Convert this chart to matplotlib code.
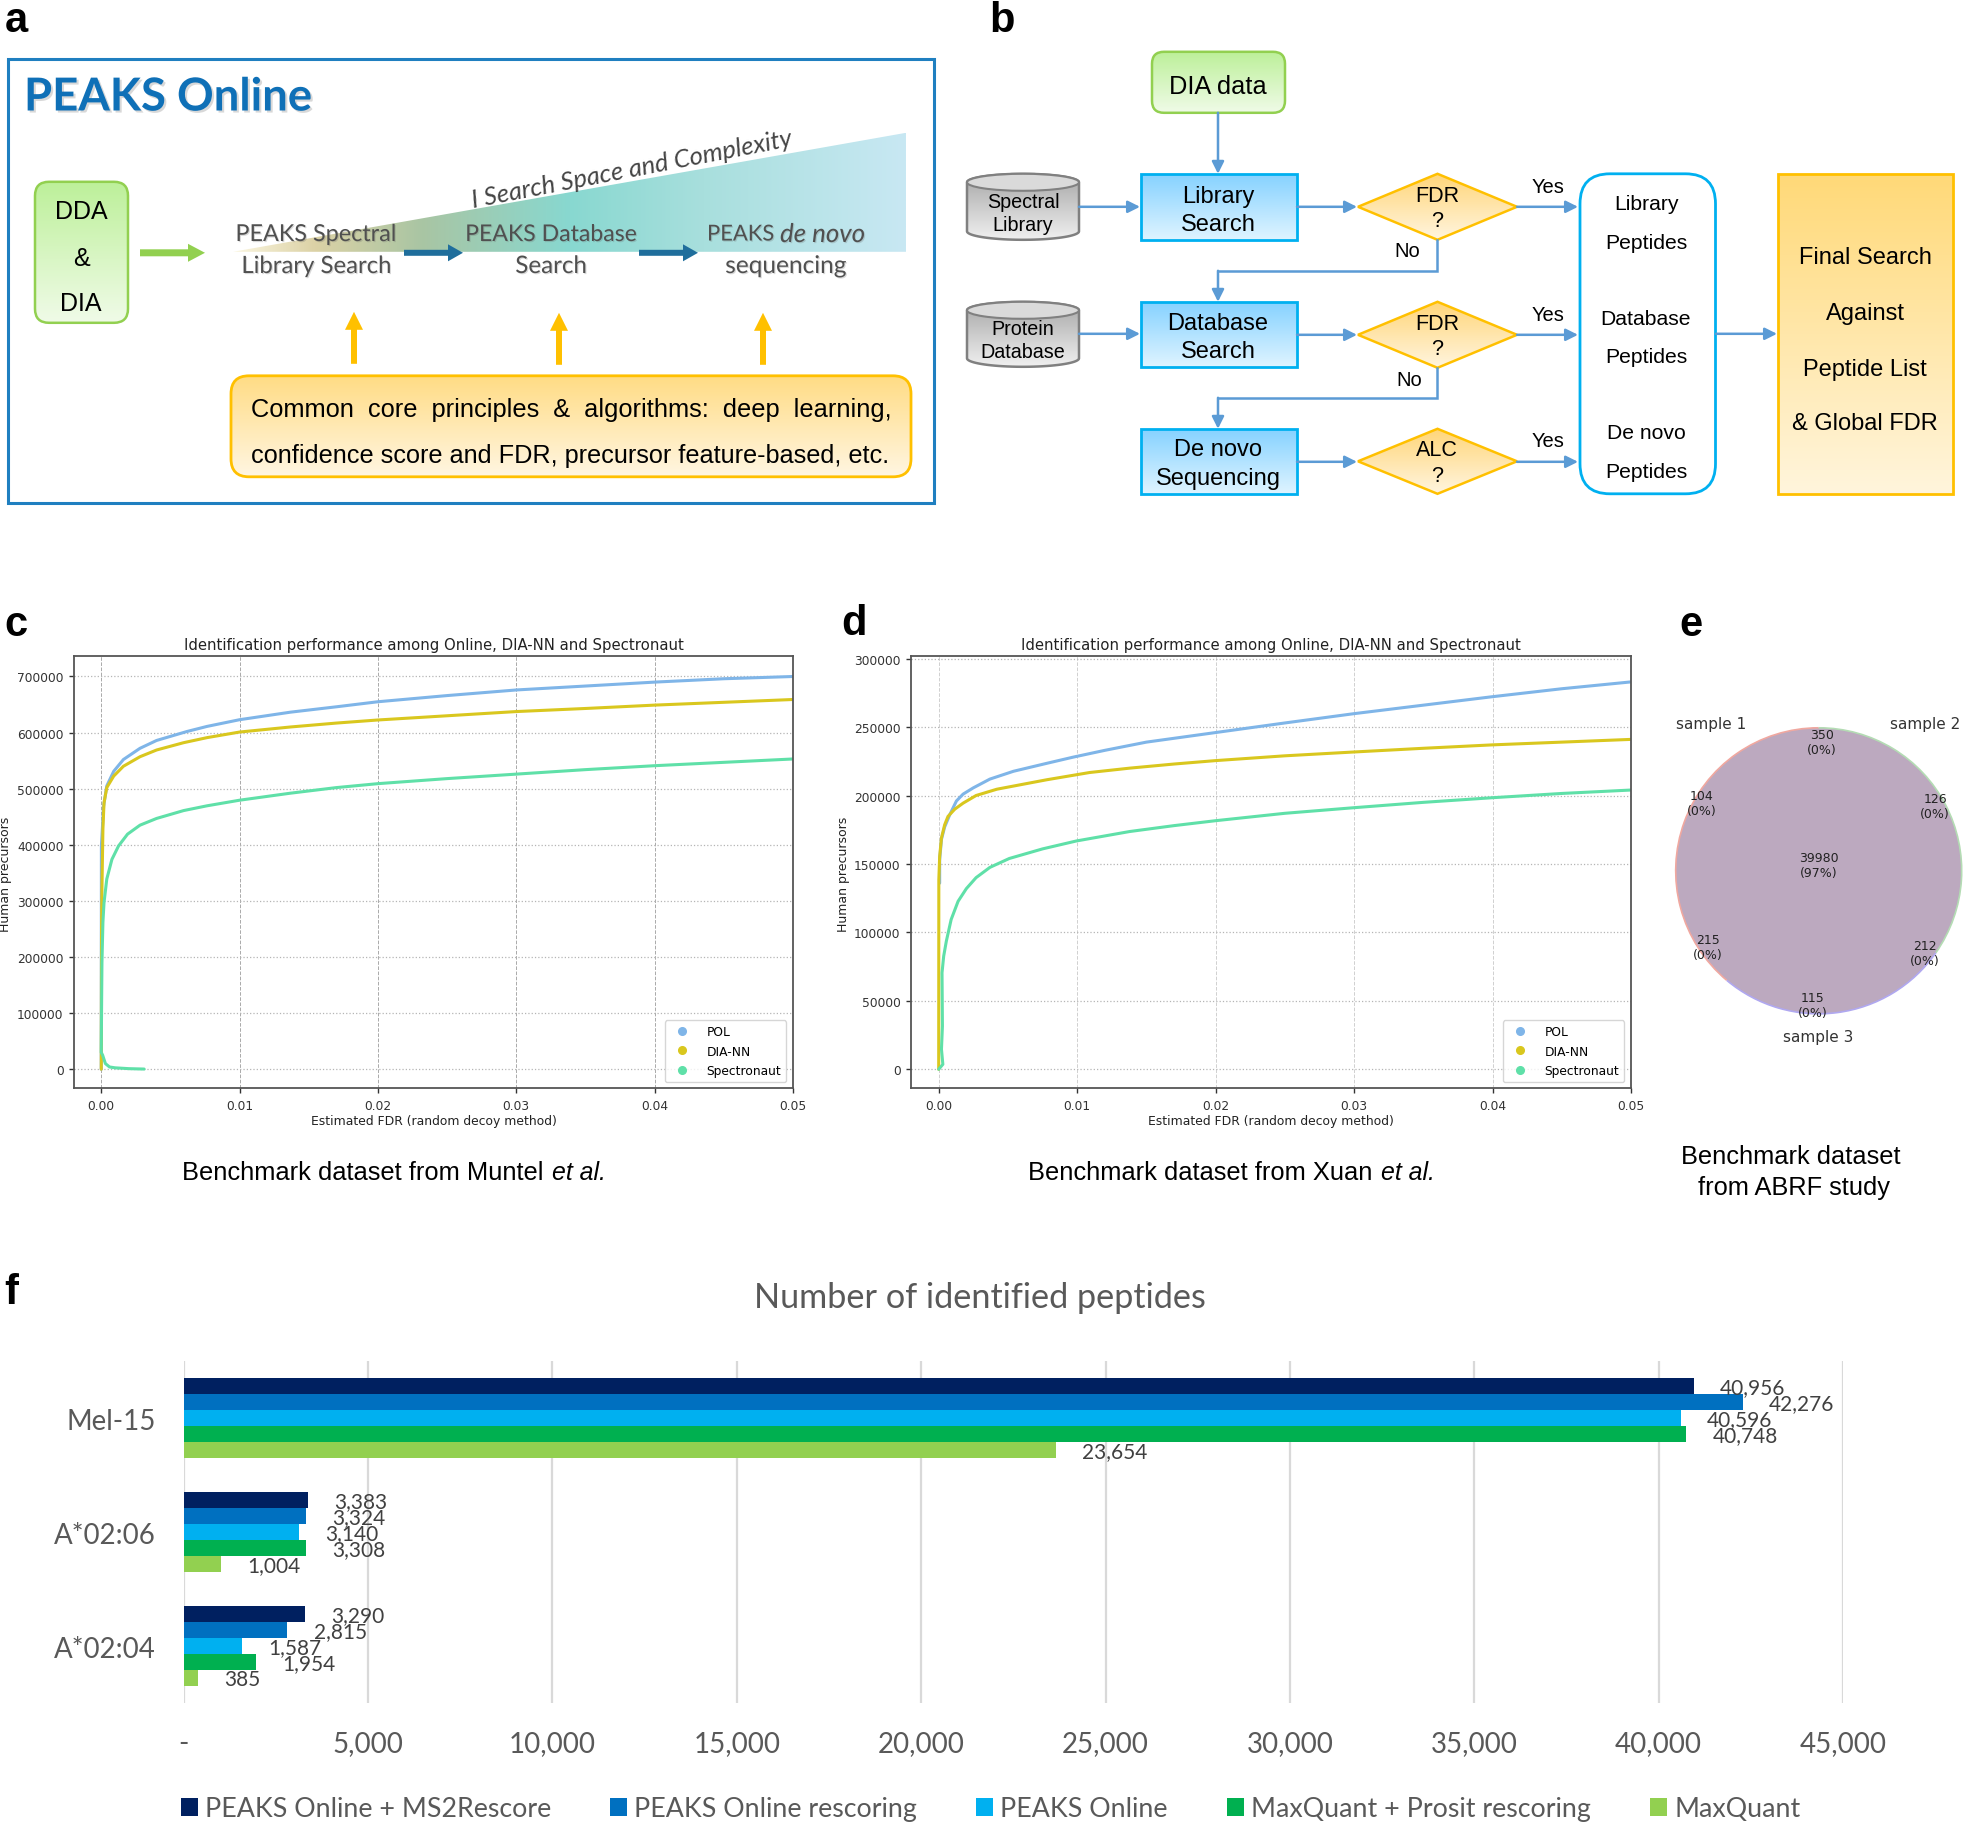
import numpy as np
import matplotlib
matplotlib.use('Agg')
import matplotlib.pyplot as plt
from matplotlib.patches import FancyBboxPatch, FancyArrow, Polygon, Ellipse, Circle, Arc, Rectangle
from matplotlib.colors import LinearSegmentedColormap
from matplotlib.lines import Line2D
import matplotlib.patheffects as pe

W, H = 1963, 1824
DY = 0.8
# ---------- data: panel c ----------
c_pol_x = [0, 0.00001, 0.00017, 0.0004, 0.0009, 0.0016, 0.0028, 0.004, 0.0062, 0.00764, 0.01, 0.01367, 0.017, 0.02, 0.025, 0.03, 0.035, 0.04, 0.045, 0.05]
c_pol_y = [0, 398000, 469000, 505000, 531000, 552000, 572000, 586000, 602000, 611000, 623000, 636400, 646000, 655000, 666000, 676000, 683000, 690000, 696000, 700000]
c_dia_x = [0, 0.00002, 0.00005, 0.00012, 0.0002, 0.0004, 0.0009, 0.0016, 0.0028, 0.004, 0.00595, 0.00764, 0.01, 0.01367, 0.017, 0.02, 0.025, 0.03, 0.035, 0.04, 0.045, 0.05]
c_dia_y = [0, 250000, 321000, 428000, 475000, 502000, 522500, 540000, 557000, 569000, 582000, 591000, 601000, 610000, 617000, 622500, 630000, 637500, 643000, 649000, 654000, 659000]
c_spe_x = [0.0031, 0.002, 0.001, 0.0006, 0.0003, 0.0001, 0, 0.00002, 0.00005, 0.00012, 0.0002, 0.0004, 0.00077, 0.00125, 0.0019, 0.0028, 0.004, 0.00595, 0.00764, 0.01, 0.01367, 0.017, 0.02, 0.025, 0.03, 0.035, 0.04, 0.045, 0.05]
c_spe_y = [300, 1000, 2500, 4000, 10000, 25000, 30000, 100000, 190000, 262000, 297000, 339000, 374000, 398000, 419000, 435000, 447000, 461000, 469500, 479500, 492000, 502000, 509000, 518000, 526000, 534000, 541000, 547000, 553000]
# ---------- data: panel d ----------
d_pol_x = [0.00007, 0.00007, 0.0002, 0.00043, 0.0008, 0.00128, 0.00176, 0.0025, 0.0037, 0.0054, 0.0078, 0.0097, 0.012, 0.015, 0.02, 0.025, 0.03, 0.035, 0.04, 0.045, 0.05]
d_pol_y = [136000, 153000, 168000, 177000, 186000, 196000, 201000, 205600, 212000, 217700, 223500, 228000, 233000, 239000, 246000, 253000, 259800, 266000, 272200, 278000, 283000]
d_dia_x = [0, 0.00001, 0.00007, 0.0002, 0.00043, 0.00067, 0.00116, 0.00176, 0.0027, 0.0042, 0.0078, 0.0109, 0.0138, 0.017, 0.02, 0.025, 0.03, 0.035, 0.04, 0.045, 0.05]
d_dia_y = [0, 138500, 155500, 169000, 178600, 184700, 190000, 194400, 200000, 204600, 211500, 216800, 220000, 223000, 225500, 229000, 231800, 234500, 237000, 239000, 241000]
d_spe_x = [0, 0.0003, 0.0002, 0.00027, 0.00024, 0.00036, 0.00055, 0.0009, 0.0014, 0.002, 0.0027, 0.0037, 0.0051, 0.0075, 0.00995, 0.0138, 0.017, 0.02, 0.025, 0.03, 0.035, 0.04, 0.045, 0.05]
d_spe_y = [0, 3600, 14600, 31600, 70500, 82600, 93500, 109400, 122700, 132000, 140000, 147500, 154000, 161000, 166800, 173700, 178000, 181600, 187000, 191100, 195000, 198400, 201500, 204000]
curve_names = ['POL', 'DIA-NN', 'Spectronaut']
curve_colors = ['#7FB5E8', '#D9C71E', '#5FE0A8']
c_yticks = [0, 100000, 200000, 300000, 400000, 500000, 600000, 700000]
d_yticks = [0, 50000, 100000, 150000, 200000, 250000, 300000]
fdr_ticks = [0.00, 0.01, 0.02, 0.03, 0.04, 0.05]
# ---------- data: panel e ----------
venn_counts = [350, 104, 126, 39980, 215, 212, 115]
venn_pcts = [0, 0, 0, 97, 0, 0, 0]
venn_x = [1822, 1702, 1935, 1819, 1708, 1925, 1813]
venn_y = [734, 795, 798, 857, 939, 945, 997]
# ---------- data: panel f ----------
f_categories = ['Mel-15', 'A*02:06', 'A*02:04']
f_series = ['PEAKS Online + MS2Rescore', 'PEAKS Online rescoring', 'PEAKS Online', 'MaxQuant + Prosit rescoring', 'MaxQuant']
f_colors = ['#002060', '#0070C0', '#00B0F0', '#00B050', '#92D050']
f_ms2rescore = [40956, 3383, 3290]
f_rescoring = [42276, 3324, 2815]
f_online = [40596, 3140, 1587]
f_prosit = [40748, 3308, 1954]
f_maxquant = [23654, 1004, 385]
f_xticks = [0, 5000, 10000, 15000, 20000, 25000, 30000, 35000, 40000, 45000]

fig = plt.figure(figsize=(W / 100, H / 100), dpi=100, facecolor='white')
bg = fig.add_axes([0, 0, 1, 1])
bg.set_xlim(0, W); bg.set_ylim(H - DY, -DY); bg.axis('off')
bg.set_autoscale_on(False)
SANS = 'Liberation Sans'; CAL = 'Lato'; DJ = 'DejaVu Sans'

def T(x, y, s, size=12, family=SANS, color='black', ha='center', va='center', width=None, ax=bg, **kw):
    t = ax.text(x, y + 1.7, s, fontsize=size, family=family, color=color, ha=ha, va=va, **kw)
    if width is not None:
        r = fig.canvas.get_renderer()
        w = t.get_window_extent(r).width
        t.set_fontsize(size * width / w)
    return t

def grad(patch, c0, c1, ext):
    x0, x1, y0, y1 = ext
    cm = LinearSegmentedColormap.from_list('g', [c0, c1])
    g = np.linspace(0, 1, 128).reshape(-1, 1)
    im = bg.imshow(g, cmap=cm, extent=(x0, x1, y1, y0), aspect='auto', zorder=2, interpolation='bilinear')
    bg.add_patch(patch)
    patch.set_zorder(3)
    patch.set_facecolor('none')
    im.set_clip_path(patch)

def rbox(x0, y0, x1, y1, r, ec, c0, c1, lw=1.8):
    p = FancyBboxPatch((x0, y0), x1 - x0, y1 - y0, boxstyle=f'round,pad=0,rounding_size={r}', ec=ec, lw=lw)
    grad(p, c0, c1, (x0, x1, y0, y1))

def rect(x0, y0, x1, y1, ec, c0, c1, lw=2):
    p = Rectangle((x0, y0), x1 - x0, y1 - y0, ec=ec, lw=lw)
    grad(p, c0, c1, (x0, x1, y0, y1))

def diamond(x0, y0, x1, y1):
    p = Polygon([((x0 + x1) / 2, y0), (x1, (y0 + y1) / 2), ((x0 + x1) / 2, y1), (x0, (y0 + y1) / 2)], closed=True, ec='#FFC000', lw=1.8)
    grad(p, '#FFD67A', '#FFF5DF', (x0, x1, y0, y1))

def cylinder(x0, y0, x1, y1):
    eh = 8.5
    t = np.linspace(0, np.pi, 40)
    cx, a = (x0 + x1) / 2, (x1 - x0) / 2
    bot = np.c_[cx - a * np.cos(t), y1 - eh + eh * np.sin(t)]
    top = np.c_[cx + a * np.cos(t), y0 + eh - eh * np.sin(t)]
    p = Polygon(np.r_[bot, top], closed=True, ec='#808080', lw=1.8)
    grad(p, '#A8A8A8', '#F0F0F0', (x0, x1, y0, y1))
    bg.add_patch(Ellipse((cx, y0 + eh), 2 * a, 2 * eh, fc='#DADADA', ec='#808080', lw=1.5, zorder=4))

def larrow(pts):
    xs, ys = zip(*pts)
    if len(pts) > 2:
        bg.plot(xs[:-1], ys[:-1], color='#5B9BD5', lw=1.8, zorder=5, solid_joinstyle='miter')
    bg.annotate('', xy=pts[-1], xytext=pts[-2], zorder=5,
                arrowprops=dict(arrowstyle='-|>', color='#5B9BD5', lw=1.8, mutation_scale=18, shrinkA=0, shrinkB=0))

def block(x, y, dx, dy, color, w=7, hw=18, hl=17):
    bg.add_patch(FancyArrow(x, y, dx, dy, width=w, head_width=hw, head_length=hl, length_includes_head=True, color=color, lw=0, zorder=5))

# ---------- panel letters ----------
for s, x, y in [('a', 16, 18), ('b', 1002, 18), ('c', 16, 622), ('d', 854, 621), ('e', 1691, 622), ('f', 11, 1290)]:
    T(x, y, s, size=30, weight='bold')

# ---------- panel a ----------
bg.add_patch(Rectangle((8, 59), 926, 444, fc='white', ec='#1F7FC0', lw=2.2, zorder=1))
T(24, 96, 'PEAKS Online', size=30, family=CAL, color='#0F70B7', ha='left', weight='bold', width=288,
  path_effects=[pe.withSimplePatchShadow(offset=(1.5, -1.5), alpha=0.25, shadow_rgbFace='#666666')], zorder=6)
rbox(35, 182, 128, 323, 14, '#92D050', '#BDF09A', '#F0FBE8')
for s, y in [('DDA', 209), ('&', 256), ('DIA', 301)]:
    T(81, y, s, size=18, zorder=6)
block(140, 253, 65, 0, '#92D050')
cm = LinearSegmentedColormap.from_list('tri', [(0, '#FBF6E0'), (0.12, '#DCD2A6'), (0.28, '#A9C5A3'), (0.5, '#88D8D0'), (0.7, '#A8DFDD'), (1, '#C8E8F3')])
im = bg.imshow(np.linspace(0, 1, 256).reshape(1, -1), cmap=cm, extent=(233, 906, 252, 133), aspect='auto', zorder=2)
tri = Polygon([(233, 252), (906, 133), (906, 252)], closed=True, fc='none', ec='none', zorder=2)
bg.add_patch(tri); im.set_clip_path(tri)
T(632, 167, 'I Search Space and Complexity', size=18.4, family=CAL, color='#444444', style='italic', rotation=11, rotation_mode='anchor', zorder=6)
soft = [pe.withSimplePatchShadow(offset=(0.8, -0.8), alpha=0.25, shadow_rgbFace='#666666')]
for s, x, y, w in [('PEAKS Spectral', 316, 233, 161), ('Library Search', 316, 265, 151), ('PEAKS Database', 551, 233, 172), ('Search', 551, 265, 72), ('sequencing', 786, 265, 122)]:
    T(x, y, s, size=16, family=CAL, color='#505050', width=w, zorder=6, path_effects=soft)
T(707, 233, 'PEAKS', size=16, family=CAL, color='#505050', ha='left', width=67, zorder=6, path_effects=soft)
T(780, 233, 'de novo', size=16, family=CAL, color='#505050', ha='left', style='italic', width=85, zorder=6, path_effects=soft)
block(404, 253, 59, 0, '#1F6E9C', w=6, hw=17, hl=15)
block(639, 253, 59, 0, '#1F6E9C', w=6, hw=17, hl=15)
for x, y0, y1 in [(354, 364, 312), (559, 365, 313), (763, 365, 313)]:
    block(x, y0, 0, y1 - y0, '#FFC000', w=6, hw=18, hl=18)
rbox(231, 376, 911, 477, 18, '#FFC000', '#FFDC85', '#FFF6E2', lw=2)
T(251, 407, 'Common  core  principles  &  algorithms:  deep  learning,', size=18, ha='left', width=639, zorder=6)
T(251, 453, 'confidence score and FDR, precursor feature-based, etc.', size=18, ha='left', width=636, zorder=6)

# ---------- panel b ----------
rbox(1152, 52, 1285, 113, 12, '#92D050', '#BDF09A', '#F0FBE8')
T(1218, 84, 'DIA data', size=18, width=97, zorder=6)
blue0, blue1 = '#86D2FF', '#DFF4FF'
for y0, y1, a, b, ya, yb in [(174, 240, 'Library', 'Search', 194, 222), (302, 367, 'Database', 'Search', 321, 349), (429, 494, 'De novo', 'Sequencing', 448, 477)]:
    rect(1141, y0, 1297, y1, '#00B0F0', blue0, blue1)
    T(1218, ya, a, size=17, zorder=6); T(1218, yb, b, size=17, zorder=6)
cylinder(967, 174, 1079, 240); cylinder(967, 302, 1079, 367)
for s, y in [('Spectral', 200), ('Library', 223), ('Protein', 327), ('Database', 350)]:
    T(1023, y, s, size=14.2, zorder=6)
for y0, y1, a, b, ya, yb in [(174, 240, 'FDR', '?', 194, 219), (302, 368, 'FDR', '?', 322, 347), (429, 494, 'ALC', '?', 448, 474)]:
    diamond(1358, y0, 1517, y1)
    T(1437, ya, a, size=15.5, zorder=6); T(1437, yb, b, size=15.5, zorder=6)
for y in (207, 335, 462):
    larrow([(1297, y), (1357, y)]); larrow([(1517, y), (1578, y)])
for y, ys in [(207, 185), (335, 313), (462, 439)]:
    T(1548, ys, 'Yes', size=14.5, zorder=6)
T(1407, 249, 'No', size=14.5, zorder=6); T(1409, 378, 'No', size=14.5, zorder=6)
larrow([(1218, 113), (1218, 174)])
larrow([(1079, 207), (1140, 207)]); larrow([(1079, 334), (1140, 334)])
larrow([(1437, 240), (1437, 271), (1218, 271), (1218, 302)])
larrow([(1437, 368), (1437, 398), (1218, 398), (1218, 429)])
p = FancyBboxPatch((1580, 174), 135.5, 320, boxstyle='round,pad=0,rounding_size=30', fc='white', ec='#00B0F0', lw=2, zorder=3)
bg.add_patch(p)
for s, y in [('Library', 202), ('Peptides', 241), ('Database', 317), ('Peptides', 355), ('De novo', 431), ('Peptides', 470)]:
    T(1646, y, s, size=15.2, zorder=6)
larrow([(1716, 334), (1777, 334)])
rect(1778, 174, 1953, 494, '#FFC000', '#FFD978', '#FFF5DC')
for s, y in [('Final Search', 255), ('Against', 311), ('Peptide List', 367), ('& Global FDR', 422)]:
    T(1865, y, s, size=17, zorder=6)

# ---------- panels c, d ----------
def perf(rect_px, yticks, ylim, xlim, curves, leg_right, leg_bottom, ylabel_x, x_grid_color):
    l, t, r, b = rect_px
    ax = fig.add_axes([l / W, 1 - (b + 0.3) / H, (r - l) / W, (b - t) / H])
    for (xs, ys), col, name in zip(curves, curve_colors, curve_names):
        ax.plot(xs, ys, color=col, lw=2.2, label=name, solid_capstyle='round')
    ax.set_xlim(*xlim); ax.set_ylim(*ylim)
    ax.set_yticks(yticks); ax.set_yticklabels([str(v) for v in yticks])
    ax.set_xticks(fdr_ticks); ax.set_xticklabels([f'{v:.2f}' for v in fdr_ticks])
    ax.tick_params(labelsize=8.8, colors='#333333', length=3.5, width=1, pad=4)
    ax.yaxis.grid(True, color='#B5B5B5', lw=0.9, ls=':')
    ax.xaxis.grid(True, color=x_grid_color, lw=0.7, ls='--')
    ax.set_axisbelow(True)
    for s in ax.spines.values():
        s.set_color('#555555'); s.set_linewidth(1.3)
    handles = [Line2D([], [], ls='none', marker='o', ms=5.5, color=c, label=n) for c, n in zip(curve_colors, curve_names)]
    ax.legend(handles=handles, loc='lower right', bbox_to_anchor=(leg_right / W, 1 - (leg_bottom + 0.3) / H), bbox_transform=fig.transFigure,
              fontsize=8.8, borderaxespad=0, labelspacing=0.55, handletextpad=1.0, handlelength=2, borderpad=0.4, edgecolor='#CCCCCC', framealpha=0.8)
    cx = (l + r) / 2
    T(cx, 642.5, 'Identification performance among Online, DIA-NN and Spectronaut', size=10.5, family=DJ, color='#222222', width=501)
    T(cx, 1119, 'Estimated FDR (random decoy method)', size=9, family=DJ, color='#222222', width=248)
    T(ylabel_x, 872, 'Human precursors', size=9, family=DJ, color='#222222', rotation=90)
    return ax

perf((74, 657, 793, 1089), c_yticks, (-34000, 736000), (-0.00197, 0.05),
     [(c_pol_x, c_pol_y), (c_dia_x, c_dia_y), (c_spe_x, c_spe_y)], 786, 1083, 6, '#AAAAAA')
perf((911, 657, 1631, 1089), d_yticks, (-13900, 301700), (-0.002, 0.05),
     [(d_pol_x, d_pol_y), (d_dia_x, d_dia_y), (d_spe_x, d_spe_y)], 1624, 1083, 843, '#D0D0D0')

T(182, 1171, 'Benchmark dataset from Muntel', size=18, ha='left', width=362)
T(552, 1171, 'et al.', size=18, ha='left', style='italic', width=54)
T(1028, 1171, 'Benchmark dataset from Xuan', size=18, ha='left', width=344)
T(1381, 1171, 'et al.', size=18, ha='left', style='italic', width=54)
T(1791, 1155, 'Benchmark dataset', size=18, width=218)
T(1794, 1185, 'from ABRF study', size=18, width=192)

# ---------- panel e ----------
VC, VR = (1818.7, 871), 143
bg.add_patch(Circle(VC, VR, fc='#BCA9BF', ec='none', zorder=2))
for th0, th1, col in [(130, 270, '#F0A8A0'), (270, 395, '#B4DCB4'), (35, 130, '#B0A8F0')]:
    bg.add_patch(Arc(VC, 2 * VR, 2 * VR, theta1=th0, theta2=th1, color=col, lw=1.2, zorder=3))
for x, y, n, pc in zip(venn_x, venn_y, venn_counts, venn_pcts):
    T(x, y - 1, str(n), size=9, family=DJ, color='#222222', zorder=6)
    T(x, y + 14, f'({pc}%)', size=9, family=DJ, color='#222222', zorder=6)
for s, x, y in [('sample 1', 1711, 722), ('sample 2', 1925, 722), ('sample 3', 1818, 1035)]:
    T(x, y, s, size=11, family=DJ, color='#333333', zorder=6)

# ---------- panel f ----------
l, t, r, b = 183.7, 1360.7, 1843, 1702.7
ax = fig.add_axes([l / W, 1 - (b + 1.5) / H, (r - l) / W, (b - t) / H])
ax.patch.set_alpha(0)
barh = 0.1395
for i, (vals, col, name) in enumerate(zip([f_ms2rescore, f_rescoring, f_online, f_prosit, f_maxquant], f_colors, f_series)):
    ypos = np.arange(len(f_categories)) + (i - 2) * barh
    ax.barh(ypos, vals, height=barh, color=col, label=name, zorder=3)
    for y, v in zip(ypos, vals):
        ax.annotate(f'{v:,}', xy=(v, y), xytext=(18.8, -0.8), textcoords='offset points', ha='left', va='center',
                    fontsize=15, family=CAL, color='#404040', zorder=5)
ax.set_xlim(0, 45000); ax.set_ylim(2.5, -0.5)
ax.set_xticks(f_xticks)
ax.set_xticklabels(['-'] + [f'{v:,}' for v in f_xticks[1:]], fontsize=20, family=CAL, color='#595959')
ax.set_yticks(range(len(f_categories)))
ax.set_yticklabels(f_categories, fontsize=19.9, family=CAL, color='#595959')
ax.tick_params(length=0)
ax.tick_params(axis='x', pad=19)
ax.tick_params(axis='y', pad=20)
for lab in ax.get_yticklabels():
    lab.set_y(lab.get_position()[1])
ax.xaxis.grid(True, color='#D9D9D9', lw=1.6, zorder=0)
ax.set_axisbelow(True)
for s in ax.spines.values():
    s.set_visible(False)
ax.legend(loc='center left', bbox_to_anchor=(181 / W, 1 - (1809 + 1) / H), bbox_transform=fig.transFigure, ncol=5, frameon=False,
          prop={'family': CAL, 'size': 19.3}, labelcolor='#595959', borderpad=0, borderaxespad=0,
          handlelength=0.62, handleheight=0.62, handletextpad=0.28, columnspacing=2.2)
T(980, 1296, 'Number of identified peptides', size=22, family=CAL, color='#595959', width=452)

fig.savefig('out.png', dpi=100)
